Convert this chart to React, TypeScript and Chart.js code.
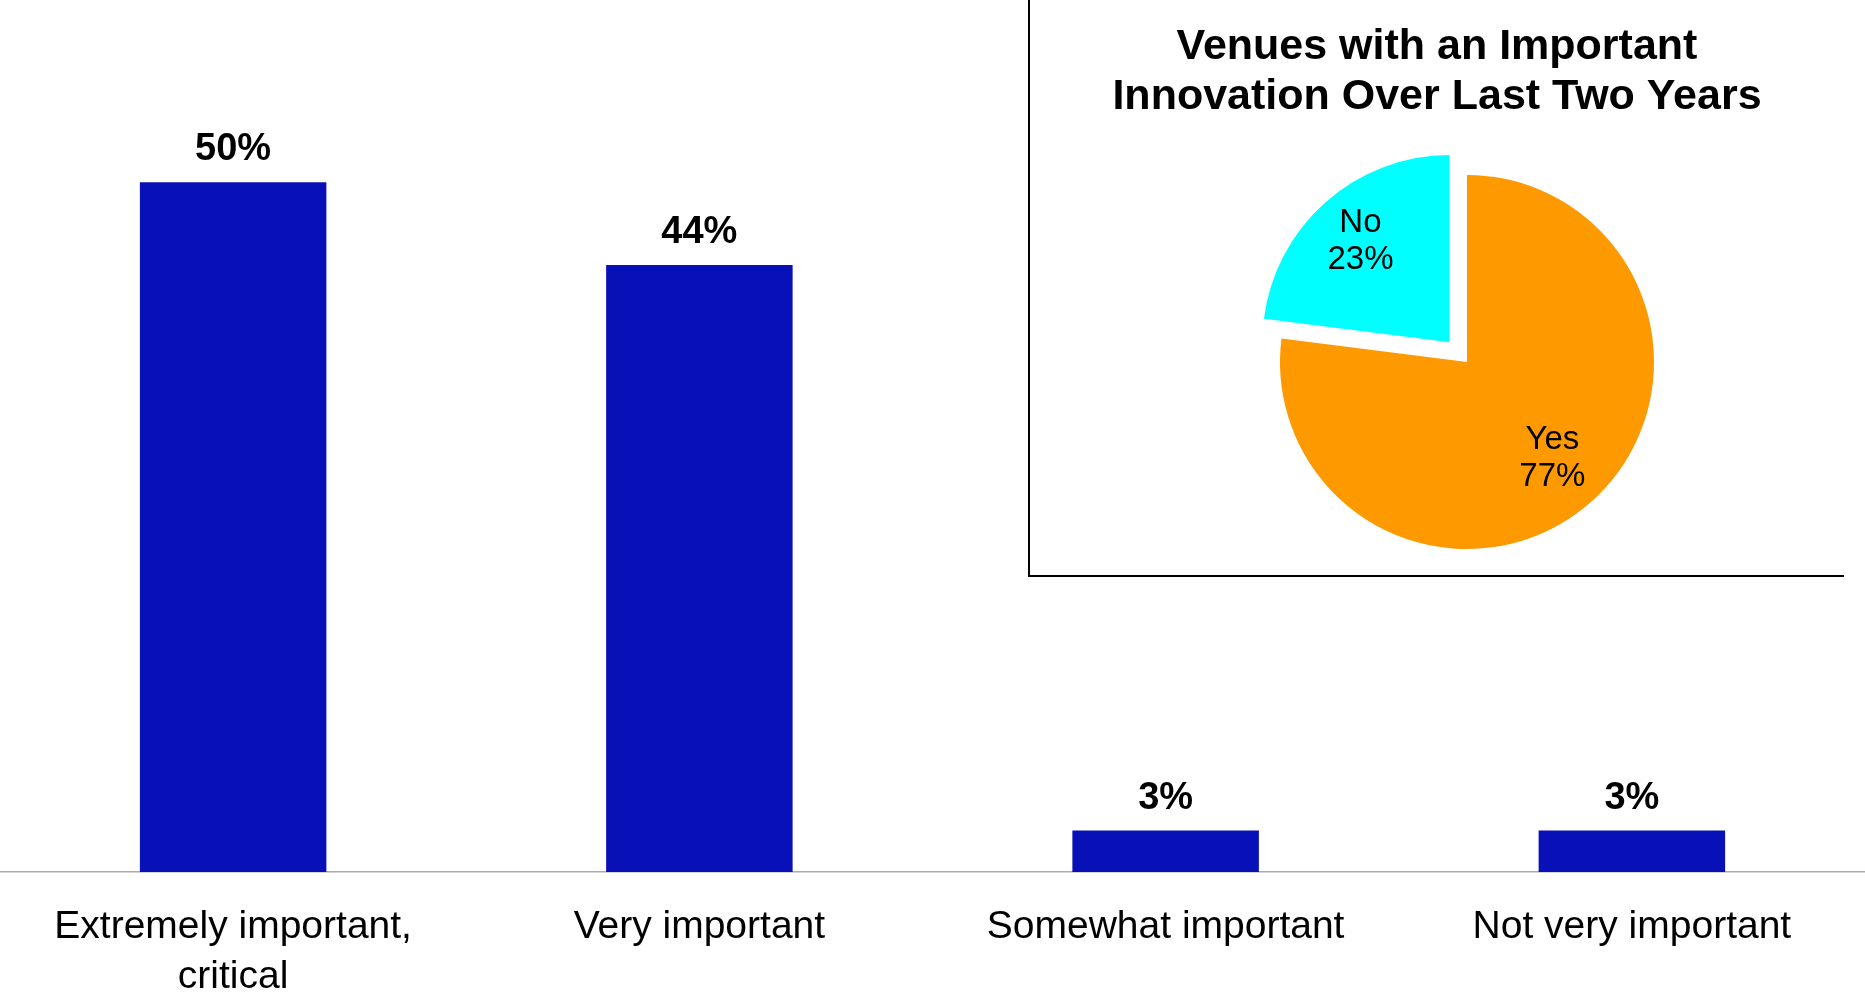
import React, { useEffect, useRef } from "react";
import { Chart, registerables } from "chart.js";

Chart.register(...registerables);

// ---------- data ----------
const barCategories: (string | string[])[] = [
  ["Extremely important,", "critical"],
  "Very important",
  "Somewhat important",
  "Not very important",
];
const barValues = [50, 44, 3, 3];
const barValueLabels = ["50%", "44%", "3%", "3%"];

const pieCategories = ["Yes", "No"];
const pieValues = [77, 23];
const pieValueLabels = ["77%", "23%"];
const pieTitle = ["Venues with an Important", "Innovation Over Last Two Years"];

// ---------- styles ----------
const FONT = "'Liberation Sans', Arial, Helvetica, sans-serif";
const W = 1865;
const H = 996;
const BAR_COLOR = "#0810B8";
const PIE_COLORS = ["#FF9900", "#00FFFF"];
const PIE_LABEL_RADIUS = [0.69, 0.72];

const barValuePlugin = {
  id: "barValueLabels",
  afterDatasetsDraw(chart: any) {
    const ctx = chart.ctx;
    const meta = chart.getDatasetMeta(0);
    ctx.save();
    ctx.font = `bold 38px ${FONT}`;
    ctx.fillStyle = "#000";
    ctx.textAlign = "center";
    ctx.textBaseline = "alphabetic";
    meta.data.forEach((el: any, i: number) => {
      ctx.fillText(barValueLabels[i], el.x, el.y - 22);
    });
    ctx.restore();
  },
};

const piePlugin = {
  id: "pieExtras",
  beforeDraw(chart: any) {
    const ctx = chart.ctx;
    ctx.save();
    ctx.fillStyle = "#000";
    ctx.fillRect(1028, 0, 2, 577);
    ctx.fillRect(1028, 575, 816, 2);
    ctx.restore();
  },
  afterDatasetsDraw(chart: any) {
    const ctx = chart.ctx;
    const meta = chart.getDatasetMeta(0);
    ctx.save();
    // title
    ctx.font = `bold 43px ${FONT}`;
    ctx.fillStyle = "#000";
    ctx.textAlign = "center";
    ctx.textBaseline = "middle";
    ctx.fillText(pieTitle[0], 1437, 47);
    ctx.fillText(pieTitle[1], 1437, 97);
    // slice labels
    ctx.font = `33px ${FONT}`;
    meta.data.forEach((el: any, i: number) => {
      const mid = (el.startAngle + el.endAngle) / 2;
      const circ = el.endAngle - el.startAngle;
      const off = el.options.offset || 0;
      const fix = 1 - Math.sin(Math.min(Math.PI, circ));
      const shift = (off / 4) * (1 + fix);
      const d = shift + el.outerRadius * PIE_LABEL_RADIUS[i];
      const cx = el.x + Math.cos(mid) * d;
      const cy = el.y + Math.sin(mid) * d;
      ctx.fillText(pieCategories[i], cx, cy - 18.5);
      ctx.fillText(pieValueLabels[i], cx, cy + 18.5);
    });
    ctx.restore();
  },
};

export default function App() {
  const barRef = useRef<HTMLCanvasElement>(null);
  const pieRef = useRef<HTMLCanvasElement>(null);

  useEffect(() => {
    if (!barRef.current || !pieRef.current) return;
    const bar = new Chart(barRef.current, {
      type: "bar",
      data: {
        labels: barCategories as any,
        datasets: [
          {
            data: barValues,
            backgroundColor: BAR_COLOR,
            borderWidth: 0,
            barPercentage: 0.4,
            categoryPercentage: 1,
          },
        ],
      },
      options: {
        responsive: false,
        animation: false,
        layout: { padding: 0 },
        plugins: {
          legend: { display: false },
          tooltip: { enabled: false },
          title: { display: false },
        },
        scales: {
          x: {
            grid: { display: false, drawTicks: false },
            border: { display: true, color: "#ababab", width: 1.5 },
            ticks: {
              color: "#000",
              font: { family: FONT, size: 39, lineHeight: 1.28 },
              padding: 30,
              maxRotation: 0,
              autoSkip: false,
            },
            afterFit: (s: any) => {
              s.height = 124;
            },
          },
          y: { display: false, min: 0, max: 63.2 },
        },
      },
      plugins: [barValuePlugin],
    } as any);

    const pie = new Chart(pieRef.current, {
      type: "pie",
      data: {
        labels: pieCategories,
        datasets: [
          {
            data: pieValues,
            backgroundColor: PIE_COLORS,
            borderWidth: 0,
            offset: [0, 105],
            radius: 187,
          },
        ],
      },
      options: {
        responsive: false,
        animation: false,
        layout: { padding: { left: 1167, right: 98, top: 62, bottom: 334 } },
        plugins: {
          legend: { display: false },
          tooltip: { enabled: false },
          title: { display: false },
        },
      },
      plugins: [piePlugin],
    } as any);

    return () => {
      bar.destroy();
      pie.destroy();
    };
  }, []);

  return (
    <div style={{ position: "absolute", left: 0, top: 0, width: W, height: H, background: "#fff" }}>
      <canvas ref={barRef} width={W} height={H} style={{ position: "absolute", left: 0, top: 0 }} />
      <canvas ref={pieRef} width={W} height={H} style={{ position: "absolute", left: 0, top: 0 }} />
    </div>
  );
}
